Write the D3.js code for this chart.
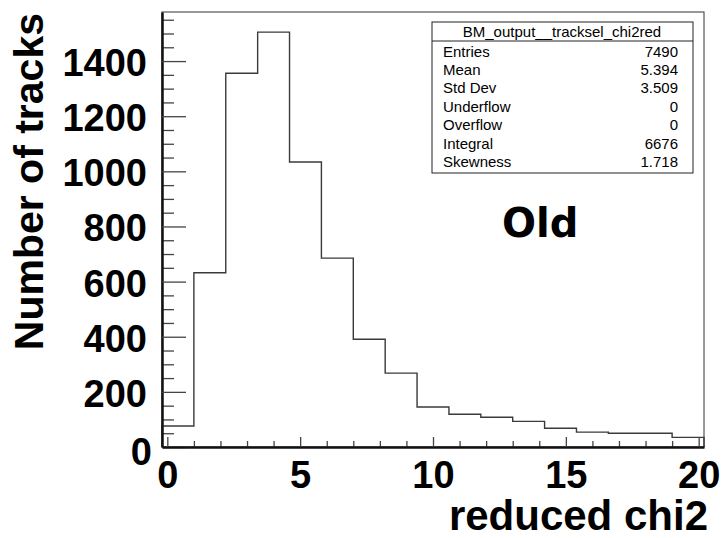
<!DOCTYPE html>
<html>
 <head>
  <meta charset="UTF-8">
  <title>reduced chi2</title>
  <style>
    body { margin: 0; background: #fff; }
    text { font-family: "Liberation Sans", Arial, Helvetica, sans-serif; }
  </style>
 </head>
 <body>
<div id="viz-wrapper"></div>
 <script src="https://d3js.org/d3.v7.min.js" charset="utf-8"></script>
 <script type="text/javascript">
    // histogram binning (17 bins) and the counts
    var binLow = -0.2,
        binWidth = 1.2;
    var counts = [76, 632, 1356, 1505, 1034, 685, 391, 268, 145, 119, 108, 93, 68, 54, 50, 50, 35];

    var xMajor = [0, 5, 10, 15, 20];
    var xMinor = [1, 2, 3, 4, 6, 7, 8, 9, 11, 12, 13, 14, 16, 17, 18, 19];
    var yMajor = [0, 200, 400, 600, 800, 1000, 1200, 1400];
    var yMinor = [50, 100, 150, 250, 300, 350, 450, 500, 550, 650, 700, 750, 850, 900, 950,
                  1050, 1100, 1150, 1250, 1300, 1350, 1450, 1500, 1550];

    var statNames = ["Entries", "Mean", "Std Dev", "Underflow", "Overflow", "Integral", "Skewness"];
    var statValues = ["7490", "5.394", "3.509", "0", "0", "6676", "1.718"];

    var width = 723,
        height = 538;

    var viz = d3.select("#viz-wrapper")
                .append('svg')
                .attr('id', 'viz')
                .attr('width', width)
                .attr('height', height);

    var x = d3.scaleLinear().domain([binLow, binLow + binWidth * counts.length]).range([162, 704]);
    var y = d3.scaleLinear().domain([0, 1578]).range([447, 12]);

    // frame
    viz.append('rect')
       .attr('x', 162).attr('y', 12)
       .attr('width', 542).attr('height', 435)
       .style('fill', 'none').style('stroke', '#333').style('stroke-width', 1);

    // histogram outline
    var d = "M" + x(binLow) + "," + y(0);
    counts.forEach(function(c, i) {
        d += "V" + y(c) + "H" + x(binLow + (i + 1) * binWidth);
    });
    d += "V" + y(0);
    viz.append('path')
       .attr('d', d)
       .style('fill', 'none')
       .style('stroke', '#3a3a3a')
       .style('stroke-width', 1.4);

    // y axis
    var yMinorAxis = viz.append('g').attr('transform', 'translate(162,0)')
       .call(d3.axisLeft(y).tickValues(yMinor).tickSize(-12).tickSizeOuter(0).tickFormat(''));
    var yAxis = viz.append('g').attr('transform', 'translate(162,0)')
       .call(d3.axisLeft(y).tickValues(yMajor).tickSize(-24).tickSizeOuter(0).tickPadding(15)
               .tickFormat(d3.format('d')));
    yMinorAxis.select('.domain').remove();
    yAxis.select('.domain').style('stroke', '#111').style('stroke-width', 2.5);
    yAxis.selectAll('text')
         .attr('dy', '0.38em')
         .style('font-size', '38px').style('font-weight', 'bold').style('fill', '#000');
    yAxis.selectAll('.tick').filter(function(v) { return v === 0; }).select('text')
         .attr('x', -10).attr('dy', '0.46em');

    // x axis
    var xMinorAxis = viz.append('g').attr('transform', 'translate(0,447)')
       .call(d3.axisBottom(x).tickValues(xMinor).tickSize(-6).tickSizeOuter(0).tickFormat(''));
    var xAxis = viz.append('g').attr('transform', 'translate(0,447)')
       .call(d3.axisBottom(x).tickValues(xMajor).tickSize(-10).tickSizeOuter(0).tickPadding(14)
               .tickFormat(d3.format('d')));
    xMinorAxis.select('.domain').remove();
    xAxis.select('.domain').style('stroke', '#111').style('stroke-width', 2.5);
    xAxis.selectAll('text')
         .style('font-size', '38px').style('font-weight', 'bold').style('fill', '#000');
    viz.selectAll('.tick line').style('stroke', '#444').style('stroke-width', 1.3);

    // axis titles
    viz.append('text')
       .attr('x', 708).attr('y', 530)
       .attr('text-anchor', 'end')
       .style('font-size', '42px').style('font-weight', 'bold')
       .text('reduced chi2');
    viz.append('text')
       .attr('transform', 'translate(43,13) rotate(-90)')
       .attr('text-anchor', 'end')
       .style('font-size', '41px').style('font-weight', 'bold')
       .text('Number of tracks');

    viz.append('text')
       .attr('x', 502).attr('y', 237)
       .style('font-family', '"DejaVu Sans", Verdana, sans-serif')
       .style('font-size', '40px').style('font-weight', 'bold')
       .text('Old');

    // stats box
    var stats = viz.append('g');
    stats.append('rect')
         .attr('x', 432).attr('y', 22).attr('width', 261).attr('height', 151)
         .style('fill', '#fff').style('stroke', '#222').style('stroke-width', 1);
    stats.append('line')
         .attr('x1', 432).attr('x2', 693).attr('y1', 41).attr('y2', 41)
         .style('stroke', '#222').style('stroke-width', 1);
    stats.append('text')
         .attr('x', 562).attr('y', 36.5).attr('text-anchor', 'middle')
         .style('font-size', '15px')
         .text('BM_output__tracksel_chi2red');
    stats.selectAll('text.name')
         .data(statNames).enter().append('text')
         .attr('class', 'name')
         .attr('x', 443).attr('y', function(s, i) { return 56.5 + i * 18.45; })
         .style('font-size', '15px')
         .text(function(s) { return s; });
    stats.selectAll('text.value')
         .data(statValues).enter().append('text')
         .attr('class', 'value')
         .attr('x', 678).attr('y', function(s, i) { return 56.5 + i * 18.45; })
         .attr('text-anchor', 'end')
         .style('font-size', '15px')
         .text(function(s) { return s; });
 </script>
 </body>
</html>
